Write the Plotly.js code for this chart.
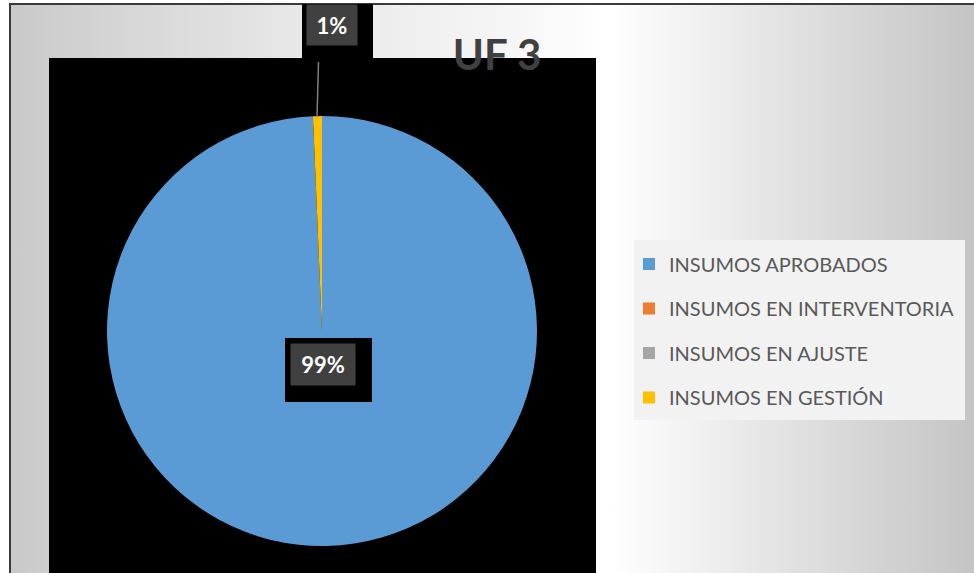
<!DOCTYPE html>
<html><head><meta charset="utf-8">
<script src="https://cdn.plot.ly/plotly-3.0.1.min.js"></script>
<style>
html,body{margin:0;padding:0;background:#fff;}
#wrap{position:relative;width:974px;height:573px;overflow:hidden;background:#fff;}
#bg{position:absolute;left:9px;top:3px;width:966px;height:571px;border-top:2px solid #3a3a3a;border-left:2px solid #3a3a3a;
background:linear-gradient(90deg,#c9c9c9 0%,#d4d4d4 10%,#e8e8e8 30%,#f6f6f6 52%,#ffffff 62%,#ececec 74%,#d6d6d6 88%,#c4c4c4 100%);}
#chart{position:absolute;left:0;top:0;width:974px;height:573px;}
</style></head>
<body><div id="wrap"><div id="bg"></div><div id="chart"></div></div>
<script>
const categories = ['INSUMOS APROBADOS','INSUMOS EN INTERVENTORIA','INSUMOS EN AJUSTE','INSUMOS EN GESTIÓN'];
const values = [148, 0, 0, 1];
const colors = ['#5b9bd5','#ed7d31','#a5a5a5','#ffc000'];
const chartTitle = 'UF 3';

const W = 974, H = 573;
const px = x => x / W;
const py = y => 1 - y / H;
const total = values.reduce((a, b) => a + b, 0);
const pct = i => Math.round(values[i] / total * 100) + '%';
const FONT = 'Lato, "Open Sans", sans-serif';

const pie = {
  type: 'pie',
  labels: categories,
  values: values,
  marker: {colors: colors, line: {width: 0}},
  sort: false,
  direction: 'clockwise',
  rotation: 0,
  textinfo: 'none',
  hoverinfo: 'label+percent',
  showlegend: false,
  domain: {x: [px(107), px(537)], y: [py(546), py(116)]}
};

const legendTraces = categories.map((c, i) => ({
  type: 'scatter', mode: 'markers', x: [null], y: [null],
  name: c, legendgroup: 'g' + i,
  marker: {symbol: 'square', size: 12, color: colors[i]},
  hoverinfo: 'skip', showlegend: true
}));

const labelFont = {family: FONT, size: 22, color: '#ffffff', weight: 'bold'};

const layout = {
  width: W, height: H,
  margin: {l: 0, r: 0, t: 0, b: 0},
  paper_bgcolor: 'rgba(0,0,0,0)',
  plot_bgcolor: 'rgba(0,0,0,0)',
  title: {text: chartTitle, x: px(497), xanchor: 'center', y: py(55), yanchor: 'middle', yref: 'container',
          font: {family: FONT, size: 42, color: '#404040', weight: 'bold'}},
  xaxis: {visible: false}, yaxis: {visible: false},
  showlegend: true,
  legend: {x: px(629), xanchor: 'left', y: py(244.5), yanchor: 'top', traceorder: 'grouped', tracegroupgap: 15.5,
           bgcolor: 'rgba(0,0,0,0)', borderwidth: 0, itemclick: false, itemdoubleclick: false,
           font: {family: FONT, size: 20, color: '#595959'}},
  shapes: [
    {type: 'rect', xref: 'paper', yref: 'paper', layer: 'below', x0: px(49), x1: px(596), y0: py(575), y1: py(58), fillcolor: '#000000', line: {width: 0}},
    {type: 'rect', xref: 'paper', yref: 'paper', layer: 'below', x0: px(302), x1: px(373), y0: py(58), y1: py(4), fillcolor: '#000000', line: {width: 0}},
    {type: 'rect', xref: 'paper', yref: 'paper', layer: 'below', x0: px(634), x1: px(965), y0: py(420), y1: py(240), fillcolor: '#f2f2f2', line: {width: 0}},
    {type: 'rect', xref: 'paper', yref: 'paper', layer: 'above', x0: px(285), x1: px(372), y0: py(402), y1: py(338), fillcolor: '#000000', line: {width: 0}},
    {type: 'line', xref: 'paper', yref: 'paper', layer: 'above', x0: px(318.5), x1: px(317), y0: py(62), y1: py(117), line: {color: '#7f7f7f', width: 1.5}}
  ],
  annotations: [
    {text: pct(0), xref: 'paper', yref: 'paper', x: px(323), y: py(364.5), xanchor: 'center', yanchor: 'middle', showarrow: false,
     bgcolor: '#404040', width: 60, height: 37, borderpad: 2, font: labelFont},
    {text: pct(3), xref: 'paper', yref: 'paper', x: px(332), y: py(25), xanchor: 'center', yanchor: 'middle', showarrow: false,
     bgcolor: '#404040', width: 46, height: 36, borderpad: 2, font: labelFont}
  ]
};

Plotly.newPlot('chart', [pie].concat(legendTraces), layout, {displayModeBar: false, staticPlot: false});
</script>
</body></html>
